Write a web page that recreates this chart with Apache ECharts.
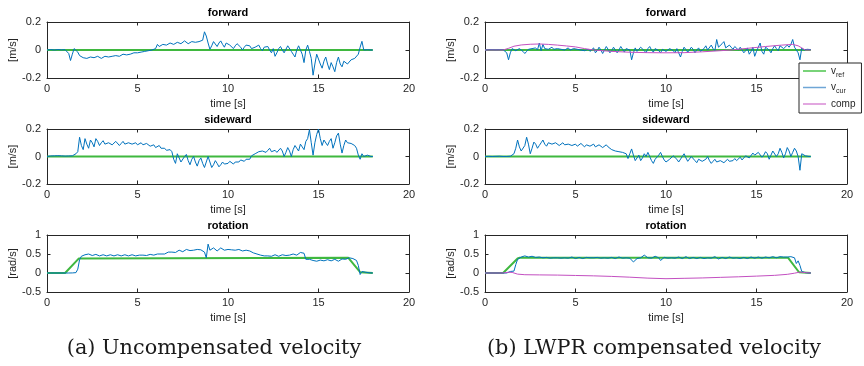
<!DOCTYPE html>
<html>
<head>
<meta charset="utf-8">
<script src="https://cdn.jsdelivr.net/npm/echarts@6/dist/echarts.min.js"></script>
<style>html,body{margin:0;padding:0;background:#fff;}#c{width:864px;height:366px;}</style>
</head>
<body>
<div id="c"></div>
<script>
// ---- sample times (0.0 .. 18.0 s, 0.1 s step) ----
const SAMPLE_COUNT = 181;
const SAMPLE_STEP = 0.1;
const time = Array.from({length: SAMPLE_COUNT}, (_, i) => +(i * SAMPLE_STEP).toFixed(1));

// ---- axis ticks ----
const xTicks = [0, 5, 10, 15, 20];
const velTicks = [-0.2, 0, 0.2];
const rotTicks = [-0.5, 0, 0.5, 1];

// ---- titles / labels ----
const rowTitles = ['forward', 'sideward', 'rotation'];
const rowUnits = ['[m/s]', '[m/s]', '[rad/s]'];
const xName = 'time [s]';
const captions = ['(a) Uncompensated velocity', '(b) LWPR compensated velocity'];

// ---- reference velocities ----
const refFlatT = [0, 18.0];
const refFlatV = [0, 0];
const refRotLT = [0, 1.0, 1.1, 1.75, 1.85, 16.65, 16.75, 17.3, 17.4, 18.0];
const refRotLV = [0, 0, 0.02, 0.38, 0.4, 0.4, 0.38, 0.02, 0, 0];
const refRotRT = [0, 1.0, 1.1, 1.8, 1.92, 16.75, 16.85, 17.35, 17.45, 18.0];
const refRotRV = [0, 0, 0.02, 0.38, 0.4, 0.4, 0.38, 0.02, 0, 0];

// ---- (a) uncompensated: current velocity ----
const curFwdL = [
 0,0.002,0.003,0.002,0,0.001,0.003,0.002,0.001,0.002,
 0.002,0,-0.025,-0.075,-0.03,0.01,0.005,-0.015,-0.04,-0.05,
 -0.055,-0.05,-0.06,-0.065,-0.05,-0.045,-0.055,-0.06,-0.045,-0.05,
 -0.06,-0.055,-0.045,-0.04,-0.05,-0.055,-0.045,-0.035,-0.04,-0.05,
 -0.045,-0.035,-0.03,-0.04,-0.035,-0.025,-0.03,-0.035,-0.02,-0.015,
 -0.02,-0.01,-0.015,-0.005,-0.01,0,-0.005,0.005,0,-0.005,
 0.01,0.04,0.025,0.015,0.04,0.05,0.035,0.03,0.05,0.055,
 0.04,0.035,0.055,0.06,0.045,0.05,0.065,0.055,0.045,0.055,
 0.06,0.05,0.055,0.065,0.06,0.055,0.07,0.13,0.1,0.05,
 0.005,0.03,0.06,0.05,0.025,0.05,0.065,0.04,0.02,0.05,
 0.04,0.035,0.025,0.01,0.03,0.045,0.05,0.02,0,0.02,
 0.035,0.04,0.03,0.01,0.005,0.02,0.03,0.035,0.01,-0.005,
 0.02,0.01,0.025,0,-0.02,0.01,-0.045,-0.02,0.01,0.025,
 0,-0.02,-0.01,0.03,0.035,-0.01,-0.03,-0.05,0,0.03,
 0.03,-0.03,-0.09,0,0.035,-0.01,-0.06,-0.18,-0.1,-0.03,
 -0.03,-0.1,-0.13,-0.08,-0.05,-0.1,-0.14,-0.09,-0.12,-0.155,
 -0.09,-0.05,-0.1,-0.12,-0.08,-0.07,-0.1,-0.095,-0.07,-0.08,
 -0.06,-0.055,-0.03,0.02,0.062,0,0.005,0.002,-0.002,0,
 0
];
const curSideL = [
 0,0.003,0.004,0.006,0.005,0.004,0.006,0.003,0.005,0.004,
 0.003,0.005,0.004,0.006,0.005,0.01,0.02,0.035,0.14,0.08,
 0.05,0.13,0.09,0.06,0.12,0.1,0.07,0.13,0.11,0.08,
 0.1,0.115,0.09,0.08,0.1,0.11,0.085,0.09,0.11,0.1,
 0.08,0.095,0.11,0.09,0.085,0.1,0.105,0.09,0.095,0.1,
 0.085,0.09,0.1,0.085,0.08,0.095,0.09,0.075,0.08,0.085,
 0.065,0.07,0.08,0.06,0.05,0.06,0.045,0.04,0.05,0.035,
 -0.02,-0.05,0.02,0.01,-0.04,-0.05,0,0.015,-0.03,-0.06,
 -0.02,0,-0.04,-0.07,-0.03,-0.01,-0.05,-0.08,-0.04,0,
 -0.04,-0.08,-0.06,-0.03,-0.05,-0.075,-0.06,-0.04,-0.055,-0.065,
 -0.05,-0.035,-0.045,-0.055,-0.04,-0.03,-0.04,-0.025,-0.02,-0.035,
 -0.02,-0.01,-0.02,0.005,0.015,0.02,0.025,0.035,0.03,0.04,
 0.05,0.03,0.045,0.06,0.035,0.025,0.045,0.03,0.04,0.06,
 0.04,0,0.03,0.065,0.04,0,0.05,0.08,0.06,0.04,
 0.09,0.07,0.05,0.11,0.13,0.195,0.1,0.01,0.1,0.16,
 0.2,0.13,0.08,0.12,0.13,0.08,0.11,0.13,0.06,0.1,
 0.15,0.17,0.09,0.025,0.08,0.12,0.1,0.09,0.095,0.085,
 0.08,0.06,0.01,-0.02,0.02,0,-0.01,0.01,0.005,0,
 0
];
const curRotL = [
 0,0,0,0,0,0,0,0,0,0,
 0,0,0,0,0.002,0.005,0.01,0.1,0.35,0.44,
 0.47,0.48,0.46,0.5,0.48,0.46,0.47,0.49,0.46,0.45,
 0.46,0.48,0.46,0.45,0.47,0.48,0.46,0.45,0.47,0.48,
 0.46,0.45,0.47,0.48,0.46,0.45,0.46,0.48,0.47,0.45,
 0.46,0.47,0.45,0.47,0.48,0.46,0.47,0.49,0.48,0.47,
 0.49,0.5,0.48,0.5,0.52,0.5,0.53,0.55,0.52,0.55,
 0.58,0.54,0.56,0.6,0.57,0.56,0.6,0.62,0.58,0.59,
 0.63,0.6,0.58,0.62,0.65,0.61,0.63,0.55,0.4,0.76,
 0.6,0.55,0.66,0.62,0.58,0.63,0.66,0.61,0.6,0.64,
 0.62,0.59,0.61,0.63,0.6,0.59,0.62,0.6,0.58,0.61,
 0.6,0.57,0.58,0.56,0.53,0.52,0.5,0.49,0.47,0.46,
 0.45,0.43,0.45,0.46,0.44,0.46,0.48,0.45,0.44,0.47,
 0.48,0.45,0.46,0.49,0.47,0.46,0.5,0.48,0.47,0.51,
 0.54,0.49,0.52,0.36,0.33,0.36,0.31,0.33,0.36,0.31,
 0.3,0.34,0.36,0.32,0.3,0.35,0.37,0.32,0.33,0.36,
 0.33,0.31,0.36,0.37,0.34,0.36,0.39,0.4,0.4,0.38,
 0.37,0.33,0.2,-0.04,0.04,0.08,0.02,0.03,0.005,0,
 0
];

// ---- (b) LWPR compensated: current velocity ----
const curFwdR = [
 0,0.003,0.002,0.004,0.002,0.003,0.001,0.003,0.002,0.004,
 0.002,0.002,-0.02,-0.07,-0.02,0.01,0.005,-0.005,0,0.01,
 0,-0.01,-0.025,-0.01,0.005,0,0.01,0.005,0.015,0,
 0.05,-0.005,0.04,0.01,0.02,0.005,0.015,0.02,0.005,0.015,
 0.01,0.02,0.005,0.015,0,0.01,0.015,0,0.005,0.01,
 0,0.005,-0.005,0,0.01,-0.005,0,0.005,-0.01,0,
 0.015,-0.02,-0.005,0.02,0,-0.025,0,0.025,0.005,-0.02,
 -0.005,0.02,0.01,-0.02,0,0.025,0.005,-0.015,0.01,0.02,
 0,-0.07,-0.02,0.015,-0.01,-0.02,0.02,0.025,-0.005,-0.02,
 0.01,0.025,0,-0.015,0.01,0.02,-0.005,-0.02,0.005,0.015,
 -0.01,-0.02,0.01,0.015,-0.005,-0.02,0.01,0.015,-0.05,-0.01,
 0.02,0.01,-0.015,0,0.02,0.005,-0.02,0,0.015,-0.01,
 -0.02,0.01,0.03,0,-0.01,0.035,0.01,-0.005,0.075,0.02,
 0.01,0.045,0.06,0.015,0.01,0.035,0.02,0.005,0.025,0.015,
 0,0.02,0.01,-0.02,-0.005,0.015,-0.03,-0.01,0.02,-0.045,
 -0.01,0.02,0.05,-0.01,-0.03,0.02,0.03,0,-0.02,0.01,
 0.03,0.01,-0.005,0.03,0.04,0.01,0,0.035,0.02,0.04,
 0.075,0.02,0.01,-0.02,-0.07,0.015,0,0.005,0.005,0.003,
 0.003
];
const curSideR = [
 0,0.002,0.001,0.003,0,0.002,0.001,-0.002,0.002,0.001,
 0,0.002,0,0.003,0.002,0.005,0.02,0.06,0.12,0.07,
 0.04,0.03,0.08,0.14,0.09,0.02,0.06,0.105,0.09,0.06,
 0.08,0.1,0.12,0.09,0.075,0.1,0.11,0.09,0.08,0.1,
 0.095,0.08,0.09,0.1,0.085,0.075,0.09,0.095,0.08,0.085,
 0.09,0.075,0.08,0.095,0.085,0.07,0.085,0.09,0.075,0.08,
 0.09,0.07,0.065,0.085,0.08,0.065,0.07,0.085,0.07,0.06,
 0.05,0.045,0.04,0.035,0.035,0.03,0.03,0.025,0.02,-0.015,
 0.02,0.055,0.01,-0.03,-0.02,0.01,-0.03,-0.01,0.02,0,
 0.03,0,-0.03,-0.05,-0.02,-0.01,0.01,0.03,0,-0.025,
 -0.04,-0.035,-0.02,-0.025,0.005,0.01,-0.02,-0.04,-0.03,0,
 0.02,-0.01,-0.035,-0.03,0,0.005,-0.03,-0.045,-0.02,-0.01,
 -0.035,-0.045,-0.02,0,-0.03,-0.05,-0.035,-0.02,-0.04,-0.05,
 -0.03,-0.02,-0.045,-0.04,-0.02,-0.035,-0.045,-0.03,-0.015,-0.03,
 -0.02,-0.005,-0.025,-0.02,0.005,0.015,-0.01,0,0.025,0.01,
 0.005,0.03,0.02,-0.005,0.01,0.035,0.02,-0.02,0.01,0.04,
 0.03,0,0.02,0.06,0.03,-0.01,0.02,0.065,0.04,0,
 0.03,0.06,0.04,0,-0.1,0.02,0.015,0.005,0.008,0,
 0
];
const curRotR = [
 0,0,0,0,0,0,0,0,0,0,
 0,0,0,0.02,0.04,0.045,0.05,0.22,0.36,0.37,
 0.42,0.4,0.45,0.48,0.42,0.4,0.44,0.46,0.41,0.39,
 0.42,0.44,0.4,0.38,0.41,0.42,0.39,0.38,0.4,0.42,
 0.4,0.38,0.39,0.41,0.4,0.38,0.39,0.41,0.42,0.39,
 0.38,0.4,0.41,0.39,0.38,0.4,0.41,0.39,0.4,0.42,
 0.4,0.39,0.41,0.42,0.39,0.38,0.4,0.41,0.39,0.4,
 0.41,0.39,0.38,0.4,0.42,0.4,0.39,0.41,0.4,0.38,
 0.39,0.35,0.29,0.31,0.38,0.42,0.4,0.44,0.47,0.42,
 0.4,0.42,0.39,0.41,0.44,0.46,0.4,0.33,0.38,0.41,
 0.42,0.39,0.38,0.4,0.41,0.39,0.4,0.42,0.4,0.38,
 0.4,0.43,0.4,0.38,0.39,0.41,0.4,0.38,0.4,0.41,
 0.39,0.38,0.41,0.4,0.38,0.39,0.42,0.43,0.4,0.37,
 0.39,0.41,0.4,0.38,0.4,0.42,0.4,0.39,0.41,0.4,
 0.39,0.38,0.4,0.41,0.39,0.38,0.4,0.42,0.4,0.39,
 0.41,0.42,0.4,0.39,0.41,0.42,0.41,0.4,0.42,0.43,
 0.41,0.4,0.42,0.43,0.41,0.42,0.43,0.42,0.41,0.43,
 0.42,0.4,0.25,0.32,0.2,0.04,0.03,0.01,0.005,0,
 0
];

// ---- (b) LWPR compensation signal ----
const compFwdT = [0,1.0,1.3,1.6,2.0,2.5,3.0,3.5,4.0,4.5,5.0,5.5,6.0,7.0,8.0,9.0,10.0,11.0,12.0,13.0,13.6,14.5,15.5,16.4,17.0,17.3,17.5,17.7,18.0];
const compFwdV = [0,0,0.012,0.027,0.036,0.041,0.043,0.04,0.035,0.029,0.022,0.01,0,-0.01,-0.016,-0.019,-0.02,-0.019,-0.013,-0.005,0,0.012,0.025,0.035,0.04,0.03,0.015,0,0];
const compRotT = [0,1.0,1.3,1.5,1.8,2.2,3,4,5,6,7,8,9,10,11,12,13,14,15,16,16.7,17.1,17.4,17.7,18.0];
const compRotV = [0,0,0.02,0.015,-0.03,-0.045,-0.05,-0.055,-0.065,-0.075,-0.09,-0.11,-0.135,-0.15,-0.14,-0.13,-0.115,-0.1,-0.082,-0.062,-0.035,-0.005,0.025,0.01,0];

// ---------------- chart construction ----------------
const FONT = '"Liberation Sans", Arial, Helvetica, sans-serif';
const AX = '#262626';
const C_REF = '#3fb83f', C_CUR = '#0072BD', C_COMP = '#c34fc1';

const gridBoxes = [
  {left: 47, top: 22, width: 362, height: 56},
  {left: 485, top: 22, width: 362, height: 56},
  {left: 47, top: 129, width: 362, height: 55},
  {left: 485, top: 129, width: 362, height: 55},
  {left: 47, top: 235, width: 362, height: 57},
  {left: 485, top: 235, width: 362, height: 57}
];

const zip = (t, v) => t.map((x, i) => [x, v[i]]);

const panels = [
  {ref: zip(refFlatT, refFlatV), cur: zip(time, curFwdL)},
  {ref: zip(refFlatT, refFlatV), cur: zip(time, curFwdR), comp: zip(compFwdT, compFwdV)},
  {ref: zip(refFlatT, refFlatV), cur: zip(time, curSideL)},
  {ref: zip(refFlatT, refFlatV), cur: zip(time, curSideR)},
  {ref: zip(refRotLT, refRotLV), cur: zip(time, curRotL)},
  {ref: zip(refRotRT, refRotRV), cur: zip(time, curRotR), comp: zip(compRotT, compRotV)}
];

const grids = [], xAxes = [], yAxes = [], series = [], graphics = [];
const tickStyle = {inside: true, length: 3.5, lineStyle: {color: AX, width: 1}};
const lineStyle = {show: true, onZero: false, lineStyle: {color: AX, width: 1}};

gridBoxes.forEach((g, gi) => {
  const row = Math.floor(gi / 2);
  const yt = row === 2 ? rotTicks : velTicks;
  const yMin = yt[0], yMax = yt[yt.length - 1], yInt = yt[1] - yt[0];
  grids.push(Object.assign({containLabel: false}, g));
  xAxes.push({
    gridIndex: gi, type: 'value', position: 'bottom', min: xTicks[0], max: xTicks[xTicks.length - 1],
    interval: xTicks[1] - xTicks[0], axisLine: lineStyle, axisTick: tickStyle, splitLine: {show: false},
    axisLabel: {margin: 5, fontSize: 11, color: AX, fontFamily: FONT},
    name: xName, nameLocation: 'middle', nameGap: 20,
    nameTextStyle: {fontSize: 11, color: AX, fontFamily: FONT}
  });
  xAxes.push({
    gridIndex: gi, type: 'value', position: 'top', min: xTicks[0], max: xTicks[xTicks.length - 1],
    interval: xTicks[1] - xTicks[0], axisLine: lineStyle, axisTick: tickStyle, splitLine: {show: false},
    axisLabel: {show: false}
  });
  yAxes.push({
    gridIndex: gi, type: 'value', position: 'left', min: yMin, max: yMax, interval: yInt,
    axisLine: lineStyle, axisTick: tickStyle, splitLine: {show: false},
    axisLabel: {margin: 6, fontSize: 11, color: AX, fontFamily: FONT},
    name: rowUnits[row], nameLocation: 'middle', nameGap: 28,
    nameTextStyle: {fontSize: 11, color: AX, fontFamily: FONT}
  });
  yAxes.push({
    gridIndex: gi, type: 'value', position: 'right', min: yMin, max: yMax, interval: yInt,
    axisLine: lineStyle, axisTick: tickStyle, splitLine: {show: false}, axisLabel: {show: false}
  });
  const p = panels[gi];
  const mk = (name, data, color, width, z) => ({
    type: 'line', name, data, xAxisIndex: gi * 2, yAxisIndex: gi * 2,
    showSymbol: false, symbol: 'none', animation: false, z,
    lineStyle: {color, width}, itemStyle: {color}, emphasis: {disabled: true}
  });
  series.push(mk('v_ref', p.ref, C_REF, 2, 2));
  series.push(mk('v_cur', p.cur, C_CUR, 1, 3));
  if (p.comp) series.push(mk('comp', p.comp, C_COMP, 1, 4));
  graphics.push({
    type: 'text', x: g.left + g.width / 2, y: g.top - 9, z: 10,
    style: {text: rowTitles[row], font: 'bold 11px ' + FONT, fill: '#000', textAlign: 'center', textVerticalAlign: 'middle'}
  });
});

graphics.push({type: 'text', x: 214, y: 349, style: {text: captions[0], font: '20.8px "DejaVu Serif", serif', fill: '#1a1a1a', textAlign: 'center', textVerticalAlign: 'middle'}});
graphics.push({type: 'text', x: 654, y: 349, style: {text: captions[1], font: '20.8px "DejaVu Serif", serif', fill: '#1a1a1a', textAlign: 'center', textVerticalAlign: 'middle'}});

const chart = echarts.init(document.getElementById('c'), null, {renderer: 'canvas'});
chart.setOption({
  backgroundColor: '#fff',
  animation: false,
  grid: grids, xAxis: xAxes, yAxis: yAxes, series,
  legend: {
    data: [
      {name: 'v_ref', itemStyle: {color: '#4cc44c'}},
      {name: 'v_cur', itemStyle: {color: '#6fa6d6'}},
      {name: 'comp', itemStyle: {color: '#d88ad6'}}
    ],
    orient: 'vertical', left: 799, top: 63,
    backgroundColor: '#fff', borderColor: AX, borderWidth: 1, borderRadius: 0,
    padding: [3, 6, 4, 4], itemGap: 4, itemWidth: 23, itemHeight: 1.5,
    icon: 'rect', selectedMode: false, z: 20,
    formatter: n => n === 'v_ref' ? '{v|v}{s|ref}' : (n === 'v_cur' ? '{v|v}{s|cur}' : '{v|comp}'),
    textStyle: {color: AX, fontFamily: FONT, fontSize: 10,
      rich: {v: {fontSize: 10, fontFamily: FONT, color: AX, lineHeight: 15, verticalAlign: 'middle'},
             s: {fontSize: 7, fontFamily: FONT, color: AX, lineHeight: 15, verticalAlign: 'bottom', padding: [5, 0, 0, 0]}}}
  },
  graphic: graphics
});
</script>
</body>
</html>
